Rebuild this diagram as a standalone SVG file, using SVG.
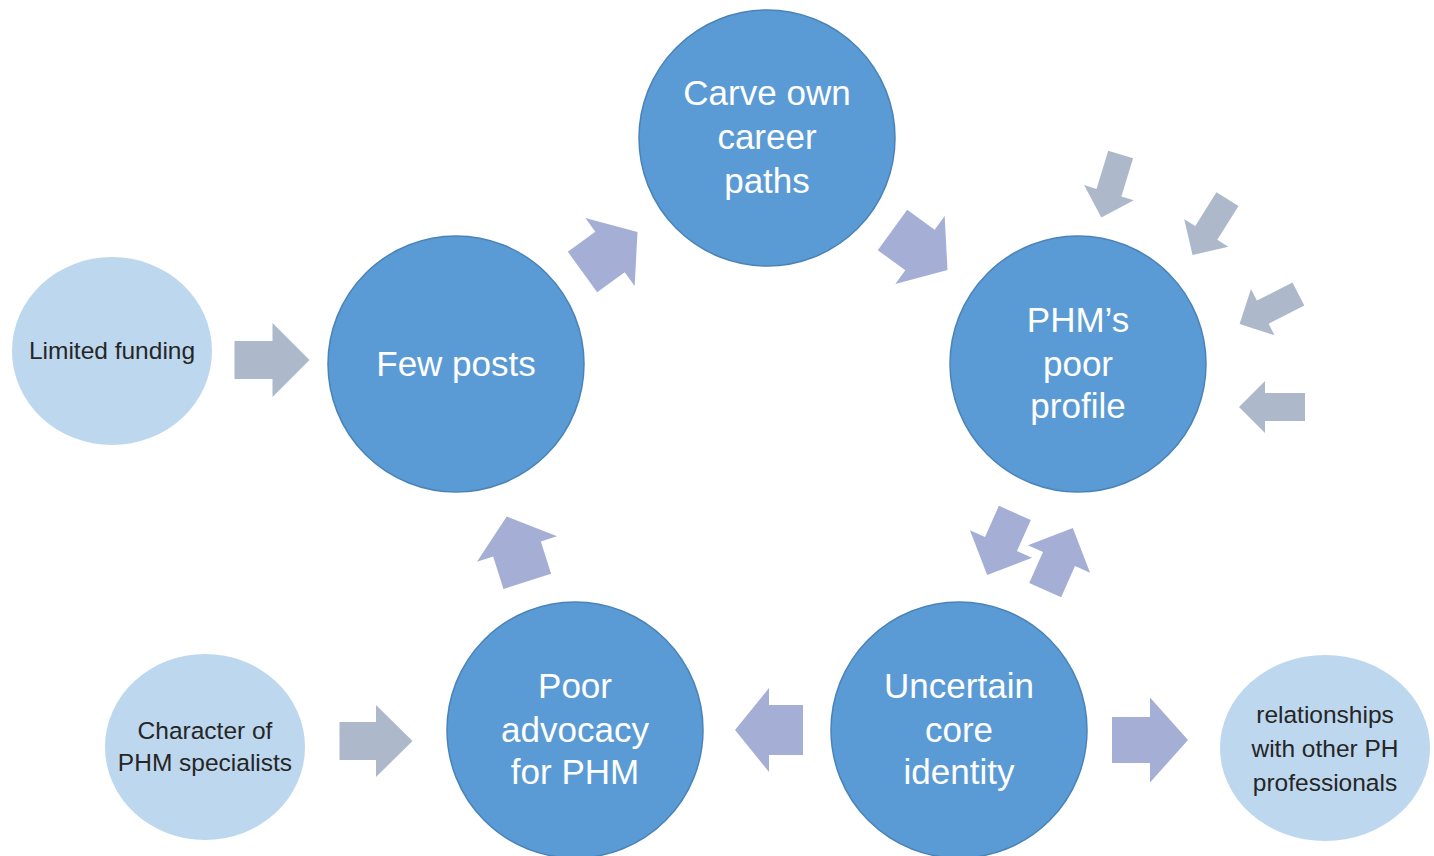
<svg xmlns="http://www.w3.org/2000/svg" width="1434" height="856" viewBox="0 0 1434 856">
<style>
.main{fill:#5B9BD5;stroke:#4A83B8;stroke-width:1.5}
.sub{fill:#BDD7EE}
.mt{font-family:"Liberation Sans",Arial,sans-serif;font-size:35px;fill:#FFFFFF;text-anchor:middle}
.st{font-family:"Liberation Sans",Arial,sans-serif;font-size:24.5px;fill:#262626;text-anchor:middle}
.cyc{fill:#A5AFD6}
.ext{fill:#ADB9CA}
</style>
<rect width="1434" height="856" fill="#FFFFFF"/>
<g id="connectors">
  <polygon class="ext" transform="translate(272,360)" points="-37.5,-19 0.5,-19 0.5,-37 37.5,0 0.5,37 0.5,19 -37.5,19"/>
  <polygon class="ext" transform="translate(376,741)" points="-36.5,-19 0,-19 0,-36 36.5,0 0,36 0,19 -36.5,19"/>
  <polygon class="cyc" transform="translate(1150,740)" points="-38,-23 0,-23 0,-42.5 38,0 0,42.5 0,23 -38,23"/>
  <polygon class="cyc" transform="translate(769,730) rotate(180)" points="-34,-25 0,-25 0,-42 34,0 0,42 0,25 -34,25"/>
  <polygon class="cyc" transform="translate(517,549) rotate(-107.6)" points="-34,-25 0,-25 0,-42 34,0 0,42 0,25 -34,25"/>
  <polygon class="cyc" transform="translate(610,252) rotate(-36)" points="-34,-25 0,-25 0,-42 34,0 0,42 0,25 -34,25"/>
  <polygon class="cyc" transform="translate(920,250) rotate(36)" points="-34,-25 0,-25 0,-42 34,0 0,42 0,25 -34,25"/>
  <polygon class="cyc" transform="translate(1001,544) rotate(114)" points="-34,-17.5 0,-17.5 0,-34 34,0 0,34 0,17.5 -34,17.5"/>
  <polygon class="cyc" transform="translate(1059,559) rotate(-66)" points="-34,-17.5 0,-17.5 0,-34 34,0 0,34 0,17.5 -34,17.5"/>
  <polygon class="ext" transform="translate(1111,186) rotate(107)" points="-33,-13 7,-13 7,-26 33,0 7,26 7,13 -33,13"/>
  <polygon class="ext" transform="translate(1210,227) rotate(122)" points="-33,-13 7,-13 7,-26 33,0 7,26 7,13 -33,13"/>
  <polygon class="ext" transform="translate(1269,309) rotate(153)" points="-33,-13 7,-13 7,-26 33,0 7,26 7,13 -33,13"/>
  <polygon class="ext" transform="translate(1272,407) rotate(180)" points="-33,-14 7,-14 7,-26 33,0 7,26 7,14 -33,14"/>
</g>
<g id="carve">
  <circle class="main" cx="767" cy="138" r="128"/>
  <text class="mt" x="767" y="105">Carve own</text>
  <text class="mt" x="767" y="149">career</text>
  <text class="mt" x="767" y="193">paths</text>
</g>
<g id="fewposts">
  <circle class="main" cx="456" cy="364" r="128"/>
  <text class="mt" x="456" y="376">Few posts</text>
</g>
<g id="profile">
  <circle class="main" cx="1078" cy="364" r="128"/>
  <text class="mt" x="1078" y="332">PHM’s</text>
  <text class="mt" x="1078" y="376">poor</text>
  <text class="mt" x="1078" y="418">profile</text>
</g>
<g id="advocacy">
  <circle class="main" cx="575" cy="730" r="128"/>
  <text class="mt" x="575" y="698">Poor</text>
  <text class="mt" x="575" y="742">advocacy</text>
  <text class="mt" x="575" y="784">for PHM</text>
</g>
<g id="identity">
  <circle class="main" cx="959" cy="730" r="128"/>
  <text class="mt" x="959" y="698">Uncertain</text>
  <text class="mt" x="959" y="742">core</text>
  <text class="mt" x="959" y="784">identity</text>
</g>
<g id="funding">
  <ellipse class="sub" cx="112" cy="351" rx="100" ry="94"/>
  <text class="st" x="112" y="359">Limited funding</text>
</g>
<g id="character">
  <ellipse class="sub" cx="205" cy="747" rx="100" ry="93"/>
  <text class="st" x="205" y="739">Character of</text>
  <text class="st" x="205" y="771">PHM specialists</text>
</g>
<g id="relationships">
  <ellipse class="sub" cx="1325" cy="748" rx="105" ry="93"/>
  <text class="st" x="1325" y="723">relationships</text>
  <text class="st" x="1325" y="757">with other PH</text>
  <text class="st" x="1325" y="791">professionals</text>
</g>
</svg>
